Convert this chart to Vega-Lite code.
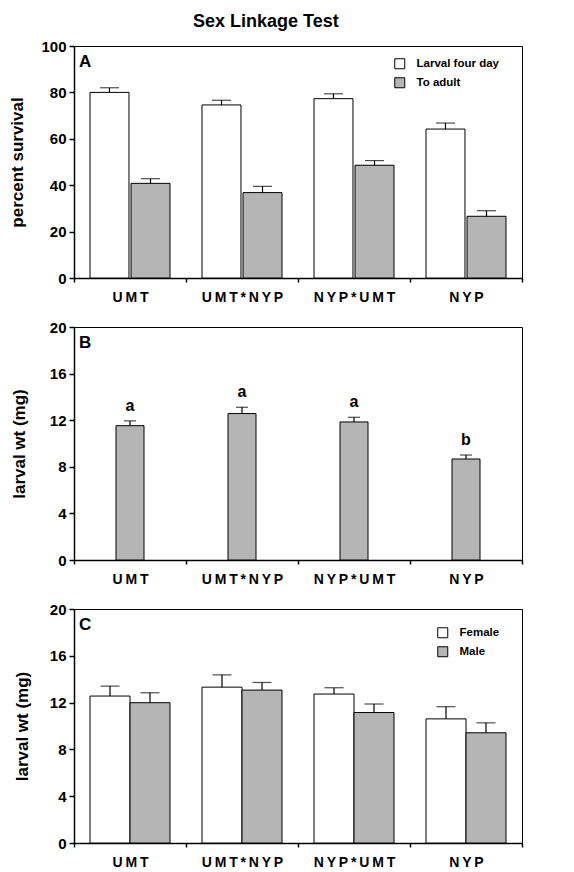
{
  "$schema": "https://vega.github.io/schema/vega-lite/v6.json",
  "padding": {"left": 8, "top": 12, "right": 5, "bottom": 0},
  "title": {"text": "Sex Linkage Test", "fontSize": 18, "font": "Liberation Sans", "fontWeight": "bold", "anchor": "middle", "offset": 8, "color": "black"},
  "spacing": 14,
  "config": {
    "font": "Liberation Sans",
    "view": {"stroke": "black", "strokeWidth": 1},
    "axis": {"grid": false, "domainColor": "black", "domainWidth": 1.5, "tickColor": "black", "tickWidth": 1.5, "labelColor": "black", "labelFont": "Liberation Sans", "labelFontWeight": "bold", "titleFont": "Liberation Sans", "titleFontWeight": "bold", "titleColor": "black"},
    "axisX": {"title": null, "labelAngle": 0, "tickSize": 4, "labelPadding": 8, "labelFontSize": 14, "tickBand": "extent", "labelExpr": "replace(datum.label, regexp('(.)(?!$)', 'g'), '$1\u2009')"},
    "axisY": {"labelFontSize": 15, "tickSize": 5, "labelPadding": 3, "titleFontSize": 17},
    "legend": {"labelFont": "Liberation Sans", "labelFontWeight": "bold", "labelFontSize": 11.5, "labelColor": "black", "symbolType": "square", "symbolSize": 100, "symbolStrokeColor": "black", "symbolStrokeWidth": 1, "labelOffset": 11, "rowPadding": 4, "title": null, "orient": "none"},
    "text": {"font": "Liberation Sans", "fontWeight": "bold", "color": "black"}
  },
  "vconcat": [
    {
      "width": 448,
      "height": 232,
      "layer": [
        {
          "data": {"values": [
            {"strain": "UMT", "stage": "Larval four day", "mean": 80.0, "upper": 82.0},
            {"strain": "UMT", "stage": "To adult", "mean": 40.8, "upper": 42.8},
            {"strain": "UMT*NYP", "stage": "Larval four day", "mean": 74.6, "upper": 76.6},
            {"strain": "UMT*NYP", "stage": "To adult", "mean": 36.8, "upper": 39.5},
            {"strain": "NYP*UMT", "stage": "Larval four day", "mean": 77.3, "upper": 79.4},
            {"strain": "NYP*UMT", "stage": "To adult", "mean": 48.6, "upper": 50.6},
            {"strain": "NYP", "stage": "Larval four day", "mean": 64.2, "upper": 66.8},
            {"strain": "NYP", "stage": "To adult", "mean": 26.6, "upper": 29.0}
          ]},
          "encoding": {
            "x": {"field": "strain", "type": "nominal", "sort": ["UMT", "UMT*NYP", "NYP*UMT", "NYP"], "scale": {"paddingInner": 0, "paddingOuter": 0}},
            "xOffset": {"field": "stage", "type": "nominal", "sort": ["Larval four day", "To adult"], "scale": {"paddingInner": 0.05, "paddingOuter": 0.39}}
          },
          "layer": [
            {
              "mark": {"type": "bar", "stroke": "black", "strokeWidth": 1},
              "encoding": {
                "y": {"field": "mean", "type": "quantitative", "scale": {"domain": [0, 100]}, "axis": {"values": [0, 20, 40, 60, 80, 100], "title": "percent survival", "titlePadding": 14}},
                "fill": {"field": "stage", "type": "nominal", "scale": {"domain": ["Larval four day", "To adult"], "range": ["white", "#b5b5b5"]}, "legend": {"legendX": 320, "legendY": 12}}
              }
            },
            {
              "mark": {"type": "rule", "color": "black", "strokeWidth": 1.2},
              "encoding": {"y": {"field": "mean", "type": "quantitative"}, "y2": {"field": "upper"}}
            },
            {
              "mark": {"type": "tick", "color": "black", "size": 19, "thickness": 1.2},
              "encoding": {"y": {"field": "upper", "type": "quantitative"}}
            }
          ]
        },
        {
          "data": {"values": [{"panel": "A"}]},
          "mark": {"type": "text", "fontSize": 17, "align": "left", "baseline": "middle", "dx": 5, "dy": 16},
          "encoding": {
            "x": {"datum": "UMT", "type": "nominal", "bandPosition": 0},
            "y": {"datum": 100, "type": "quantitative"},
            "text": {"field": "panel"}
          }
        }
      ],
      "resolve": {"scale": {"xOffset": "independent"}}
    },
    {
      "width": 448,
      "height": 233,
      "layer": [
        {
          "data": {"values": [
            {"strain": "UMT", "mean": 11.53, "upper": 11.94, "group": "a"},
            {"strain": "UMT*NYP", "mean": 12.57, "upper": 13.11, "group": "a"},
            {"strain": "NYP*UMT", "mean": 11.85, "upper": 12.25, "group": "a"},
            {"strain": "NYP", "mean": 8.67, "upper": 9.01, "group": "b"}
          ]},
          "encoding": {
            "x": {"field": "strain", "type": "nominal", "sort": ["UMT", "UMT*NYP", "NYP*UMT", "NYP"], "scale": {"paddingInner": 0, "paddingOuter": 0}}
          },
          "layer": [
            {
              "mark": {"type": "bar", "stroke": "black", "strokeWidth": 1, "fill": "#b5b5b5", "width": {"band": 0.25}},
              "encoding": {
                "y": {"field": "mean", "type": "quantitative", "scale": {"domain": [0, 20]}, "axis": {"values": [0, 4, 8, 12, 16, 20], "title": "larval wt (mg)", "titlePadding": 21}}
              }
            },
            {
              "mark": {"type": "rule", "color": "black", "strokeWidth": 1.2},
              "encoding": {"y": {"field": "mean", "type": "quantitative"}, "y2": {"field": "upper"}}
            },
            {
              "mark": {"type": "tick", "color": "black", "size": 12, "thickness": 1.2},
              "encoding": {"y": {"field": "upper", "type": "quantitative"}}
            },
            {
              "mark": {"type": "text", "fontSize": 16, "baseline": "alphabetic", "dy": -10},
              "encoding": {"y": {"field": "upper", "type": "quantitative"}, "text": {"field": "group"}}
            }
          ]
        },
        {
          "data": {"values": [{"panel": "B"}]},
          "mark": {"type": "text", "fontSize": 17, "align": "left", "baseline": "middle", "dx": 5, "dy": 16},
          "encoding": {
            "x": {"datum": "UMT", "type": "nominal", "bandPosition": 0},
            "y": {"datum": 20, "type": "quantitative"},
            "text": {"field": "panel"}
          }
        }
      ]
    },
    {
      "width": 448,
      "height": 234,
      "layer": [
        {
          "data": {"values": [
            {"strain": "UMT", "sex": "Female", "mean": 12.56, "upper": 13.41},
            {"strain": "UMT", "sex": "Male", "mean": 11.99, "upper": 12.84},
            {"strain": "UMT*NYP", "sex": "Female", "mean": 13.32, "upper": 14.37},
            {"strain": "UMT*NYP", "sex": "Male", "mean": 13.07, "upper": 13.72},
            {"strain": "NYP*UMT", "sex": "Female", "mean": 12.73, "upper": 13.27},
            {"strain": "NYP*UMT", "sex": "Male", "mean": 11.15, "upper": 11.88},
            {"strain": "NYP", "sex": "Female", "mean": 10.61, "upper": 11.65},
            {"strain": "NYP", "sex": "Male", "mean": 9.42, "upper": 10.27}
          ]},
          "encoding": {
            "x": {"field": "strain", "type": "nominal", "sort": ["UMT", "UMT*NYP", "NYP*UMT", "NYP"], "scale": {"paddingInner": 0, "paddingOuter": 0}},
            "xOffset": {"field": "sex", "type": "nominal", "sort": ["Female", "Male"], "scale": {"paddingInner": 0, "paddingOuter": 0.4}}
          },
          "layer": [
            {
              "mark": {"type": "bar", "stroke": "black", "strokeWidth": 1},
              "encoding": {
                "y": {"field": "mean", "type": "quantitative", "scale": {"domain": [0, 20]}, "axis": {"values": [0, 4, 8, 12, 16, 20], "title": "larval wt (mg)", "titlePadding": 18}},
                "fill": {"field": "sex", "type": "nominal", "scale": {"domain": ["Female", "Male"], "range": ["white", "#b5b5b5"]}, "legend": {"legendX": 363, "legendY": 18}}
              }
            },
            {
              "mark": {"type": "rule", "color": "black", "strokeWidth": 1.2},
              "encoding": {"y": {"field": "mean", "type": "quantitative"}, "y2": {"field": "upper"}}
            },
            {
              "mark": {"type": "tick", "color": "black", "size": 19, "thickness": 1.2},
              "encoding": {"y": {"field": "upper", "type": "quantitative"}}
            }
          ]
        },
        {
          "data": {"values": [{"panel": "C"}]},
          "mark": {"type": "text", "fontSize": 17, "align": "left", "baseline": "middle", "dx": 5, "dy": 16},
          "encoding": {
            "x": {"datum": "UMT", "type": "nominal", "bandPosition": 0},
            "y": {"datum": 20, "type": "quantitative"},
            "text": {"field": "panel"}
          }
        }
      ],
      "resolve": {"scale": {"xOffset": "independent"}}
    }
  ],
  "resolve": {"scale": {"fill": "independent", "xOffset": "independent", "y": "independent"}, "legend": {"fill": "independent"}}
}
